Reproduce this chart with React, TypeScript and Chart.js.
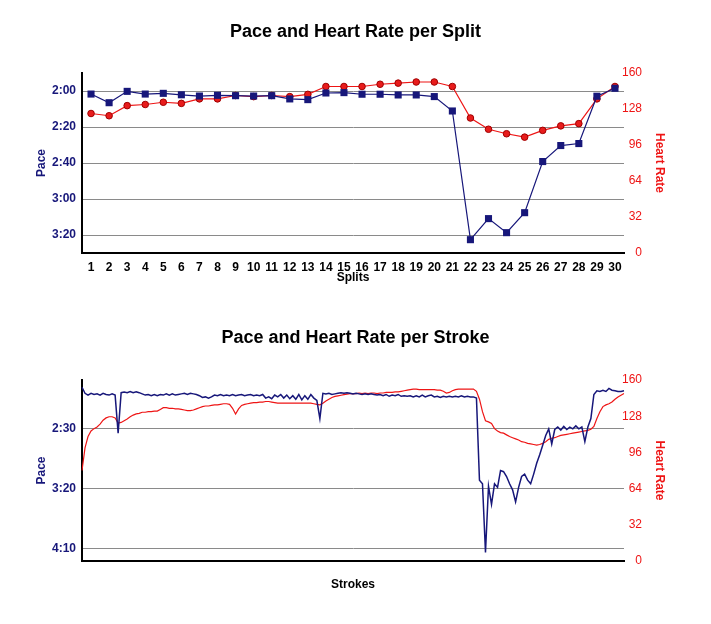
import React, { useEffect, useRef } from 'react';
import { Chart, registerables } from 'chart.js';
Chart.register(...registerables);

const splitLabels = ['1','2','3','4','5','6','7','8','9','10','11','12','13','14','15','16','17','18','19','20','21','22','23','24','25','26','27','28','29','30'];
const splitPace = [121.7,126.5,120.2,121.7,121.3,122.1,122.8,122.4,122.6,122.8,122.6,124.4,124.8,121.1,120.9,121.8,121.8,122.2,122.2,123.1,131.1,202.6,190.9,198.7,187.6,159.2,150.3,149.2,122.9,118.5];
const splitHeartRate = [124,122,131,132,134,133,137,137,140,139,140,139,141,148,148,148,150,151,152,152,148,120,110,106,103,109,113,115,137,148];

const splitPaceTicks = [120, 140, 160, 180, 200];
const strokePaceTicks = [150, 200, 250];
const heartRateTicks = [0, 32, 64, 96, 128, 160];

const strokePace = [
116,121,122.5,121,122,121.5,122.5,121,122,122.5,
121.5,122.5,154,120.5,120,120.5,119.5,120.5,119.8,120.5,
121.5,122.5,122,123,122,123,122,122.5,121.5,122.5,
121.5,122.5,122,121.5,121,122,121,121.5,122,123,
124.5,124,125,124,122.5,123,122,123,122.5,123,
122,123,122.5,122,123,122.5,122,123,122.5,123,
122,125,124,125.5,122.5,124,122,125,122.5,125.5,
123,126,122,126.5,123,126,122,125,127,142,
121,121.5,121,122,121.5,121,120.5,121,120.5,121,
121.5,121,121.5,122,121.5,122,121.5,122,122.5,122,
123,122,123.5,122.5,123,122,123.5,123,123.5,123,
124,123,124,122.5,124,123,122.5,124,123.5,124.5,
123.5,124,123.5,124,123.5,124,123,124,123.5,124,
124,125,193,196,253,198,213,196,199,185,
186,190,196,201,211,199,190,188,193,196,
188,179,172,164,156,150.5,163,151,149,151.5,
148.5,151,149,150.5,148,150.5,149,161,149,142,
122,119,119.5,118.5,119.5,117,118.5,119,119.5,119.5,
119
];

const strokeHeartRate = [
80,100,110,115,117,118.5,121,124.5,126.5,127.5,
127.5,126.5,122,122.5,124,125.5,127.5,129,130,130.5,
131.5,131.5,132,132,132.5,132.5,134,135.5,135.5,135,
135,134.5,134.5,134,133.5,133,133,133.5,134.5,135.5,
136.5,137,137,137.5,138,138,138.5,139,139,138.5,
135,130,134.5,137.5,138.5,139,139.5,140,140,140.5,
140.5,141,141,140.5,140,139.5,139.5,139.5,139.5,139.5,
139.5,139.5,139.5,139.5,139.5,139.5,139.5,139,138.5,138,
139.5,141.5,143,144.5,145.5,146,146.5,147,147.5,148,
148,148,148.5,148,148.5,148,148.5,148.5,148,148.5,
148.5,149,149,149,149.5,149.5,150,150.5,151,151.5,
152,152,151.5,151.5,151.5,151.5,151.5,151.5,151,151,
150,148.5,149,150.5,151.5,152,152,152,152,152,
152,150,143,132,124,123,121.5,117,115,113.5,
113,111.5,110,109,108,107,105.5,105,104,103.5,
103,102.5,103,104,105.5,107.5,108.5,109,110,111,
111.5,112,112.5,113,113.5,114,114.5,115,115.5,116.5,
119,126,132,136.5,138,139,140.5,143,145,146.5,
148
];
const strokeLabels = strokePace.map((_, i) => String(i + 1));

const NAVY = '#17177a';
const RED = '#ee1515';
const FONT = '"Liberation Sans", Arial, Helvetica, sans-serif';

function fmtPace(v: number): string {
  const m = Math.floor(v / 60);
  const s = Math.round(v - m * 60);
  return m + ':' + String(s).padStart(2, '0');
}

function paceAxis(min: number, max: number, ticks: number[]) {
  return {
    type: 'linear',
    position: 'left',
    reverse: true,
    min,
    max,
    afterBuildTicks: (scale: any) => { scale.ticks = ticks.map((v) => ({ value: v })); },
    afterFit: (scale: any) => { scale.width = 82; },
    grid: { display: true, color: '#8a8a8a', lineWidth: 1, drawTicks: false },
    border: { display: true, color: '#000', width: 2 },
    ticks: { color: NAVY, font: { family: FONT, size: 12, weight: 'bold' }, padding: 6, callback: (v: any) => fmtPace(Number(v)) },
    title: { display: true, text: 'Pace', color: NAVY, font: { family: FONT, size: 12, weight: 'bold' }, padding: { top: 34, bottom: 0 } },
  };
}

function hrAxis() {
  return {
    type: 'linear',
    position: 'right',
    min: 0,
    max: 160,
    afterBuildTicks: (scale: any) => { scale.ticks = heartRateTicks.map((v) => ({ value: v })); },
    afterFit: (scale: any) => { scale.width = 87; },
    grid: { display: false, drawTicks: false },
    border: { display: false },
    ticks: { color: RED, font: { family: FONT, size: 12 }, mirror: true, padding: 18 },
    title: { display: true, text: 'Heart Rate', color: RED, font: { family: FONT, size: 12, weight: 'bold' }, padding: { top: 44, bottom: 0 } },
  };
}

function ChartBox({ config, top, height }: { config: any; top: number; height: number }) {
  const ref = useRef<HTMLCanvasElement | null>(null);
  useEffect(() => {
    if (!ref.current) return;
    const chart = new Chart(ref.current, config);
    return () => chart.destroy();
  }, []);
  return (
    <div style={{ position: 'absolute', left: 0, top, width: 711, height }}>
      <canvas ref={ref} width={711} height={height} style={{ width: 711, height }} />
    </div>
  );
}

const splitConfig: any = {
  type: 'line',
  data: {
    labels: splitLabels,
    datasets: [
      {
        label: 'Pace', data: splitPace, yAxisID: 'pace', borderColor: NAVY, backgroundColor: NAVY,
        borderWidth: 1.2, pointStyle: 'rect', pointRadius: 5, pointBorderWidth: 0, pointBackgroundColor: NAVY, tension: 0,
      },
      {
        label: 'Heart Rate', data: splitHeartRate, yAxisID: 'hr', borderColor: RED, backgroundColor: RED,
        borderWidth: 1.2, pointStyle: 'circle', pointRadius: 3.3, pointBorderWidth: 1, pointBorderColor: '#a00000', pointBackgroundColor: '#e81c1c', tension: 0,
      },
    ],
  },
  options: {
    responsive: false,
    animation: false,
    layout: { padding: { left: 0, right: 0, top: 0, bottom: 25 } },
    plugins: {
      legend: { display: false },
      tooltip: { enabled: false },
      title: { display: true, text: 'Pace and Heart Rate per Split', color: '#000', font: { family: FONT, size: 18, weight: 'bold' }, padding: { top: 21, bottom: 30.4 } },
    },
    scales: {
      x: {
        type: 'category', offset: true,
        afterFit: (scale: any) => { scale.height = 32; },
        grid: { display: false, drawTicks: false },
        border: { display: true, color: '#000', width: 2 },
        ticks: { color: '#000', font: { family: FONT, size: 12, weight: 'bold' }, padding: 7, autoSkip: false, maxRotation: 0 },
        title: { display: true, text: 'Splits', color: '#000', font: { family: FONT, size: 12, weight: 'bold' }, padding: { top: 0, bottom: 0 } },
      },
      pace: paceAxis(110, 210, splitPaceTicks),
      hr: hrAxis(),
    },
  },
};

const strokeConfig: any = {
  type: 'line',
  data: {
    labels: strokeLabels,
    datasets: [
      { label: 'Pace', data: strokePace, yAxisID: 'pace', borderColor: NAVY, borderWidth: 1.5, pointRadius: 0, tension: 0 },
      { label: 'Heart Rate', data: strokeHeartRate, yAxisID: 'hr', borderColor: RED, borderWidth: 1.2, pointRadius: 0, tension: 0 },
    ],
  },
  options: {
    responsive: false,
    animation: false,
    layout: { padding: { left: 0, right: 0, top: 0, bottom: 32 } },
    plugins: {
      legend: { display: false },
      tooltip: { enabled: false },
      title: { display: true, text: 'Pace and Heart Rate per Stroke', color: '#000', font: { family: FONT, size: 18, weight: 'bold' }, padding: { top: 17, bottom: 31.4 } },
    },
    scales: {
      x: {
        type: 'category', offset: false,
        afterFit: (scale: any) => { scale.height = 31; },
        grid: { display: false, drawTicks: false },
        border: { display: true, color: '#000', width: 2 },
        ticks: { display: false },
        title: { display: true, text: 'Strokes', color: '#000', font: { family: FONT, size: 12, weight: 'bold' }, padding: { top: 0, bottom: 0 } },
      },
      pace: paceAxis(110, 260, strokePaceTicks),
      hr: hrAxis(),
    },
  },
};

export default function App() {
  return (
    <div style={{ position: 'absolute', left: 0, top: 0, width: 711, height: 624, background: '#fff' }}>
      <ChartBox config={splitConfig} top={0} height={310} />
      <ChartBox config={strokeConfig} top={310} height={314} />
    </div>
  );
}
